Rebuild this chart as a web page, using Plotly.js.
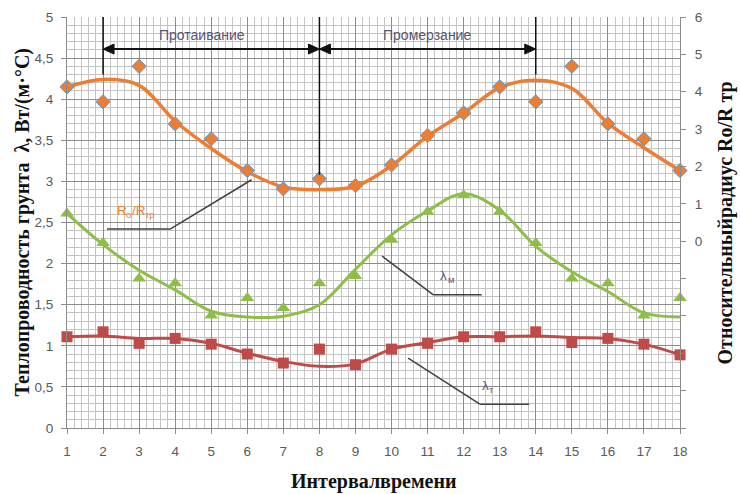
<!DOCTYPE html>
<html><head><meta charset="utf-8">
<script src="https://cdn.plot.ly/plotly-3.0.1.min.js"></script>
<style>body{margin:0;background:#fff}</style>
</head><body><div id="chart" style="width:740px;height:494px"></div>
<script>
// Time intervals
const intervals = [1,2,3,4,5,6,7,8,9,10,11,12,13,14,15,16,17,18];
// Relative radius Ro/Rтр (right axis): measured points and fitted curve
const radiusPoints = [4.13,3.73,4.68,3.14,2.74,1.89,1.40,1.67,1.49,2.04,2.83,3.43,4.13,3.73,4.68,3.14,2.74,1.89];
const radiusFit    = [4.13,4.33,4.17,3.21,2.48,1.86,1.45,1.38,1.47,2.02,2.81,3.43,4.11,4.31,4.09,3.16,2.50,1.89];
// Thermal conductivity of frozen soil λм (left axis)
const lambdaMPoints = [2.61,2.25,1.82,1.76,1.37,1.58,1.46,1.76,1.85,2.29,2.63,2.83,2.63,2.25,1.82,1.76,1.37,1.58];
const lambdaMFit    = [2.61,2.23,1.92,1.68,1.42,1.35,1.36,1.50,1.93,2.35,2.64,2.85,2.65,2.21,1.90,1.66,1.40,1.35];
// Thermal conductivity of thawed soil λт (left axis)
const lambdaTPoints = [1.11,1.17,1.03,1.09,1.02,0.90,0.79,0.96,0.77,0.96,1.03,1.11,1.11,1.17,1.04,1.09,1.02,0.89];
const lambdaTFit    = [1.11,1.12,1.09,1.09,1.03,0.91,0.81,0.75,0.78,0.96,1.04,1.11,1.11,1.12,1.10,1.09,1.02,0.89];
// Right axis ticks: labelled 0..6, unlabelled -5..-1
const rightLabelledTicks = [0,1,2,3,4,5,6];
const rightBlankTicks = [-5,-4,-3,-2,-1];

const ORANGE = '#ED7D31', GREEN = '#8DBE48', RED = '#BE4B48', LBL = '#6a4f86';

const traces = [
  {x: intervals, y: radiusFit, yaxis: 'y2', mode: 'lines', line: {color: ORANGE, width: 3.5, shape: 'spline', smoothing: 1}, hoverinfo: 'skip'},
  {x: intervals, y: lambdaMFit, mode: 'lines', line: {color: GREEN, width: 3, shape: 'spline', smoothing: 1}, hoverinfo: 'skip'},
  {x: intervals, y: lambdaTFit, mode: 'lines', line: {color: RED, width: 3, shape: 'spline', smoothing: 1}, hoverinfo: 'skip'},
  {x: intervals, y: radiusPoints, yaxis: 'y2', mode: 'markers', cliponaxis: false,
   marker: {symbol: 'diamond', size: 11, color: ORANGE, line: {color: '#5B9BD5', width: 1}}},
  {x: intervals, y: lambdaMPoints, mode: 'markers', cliponaxis: false,
   marker: {symbol: 'triangle-up', size: 12, color: GREEN, line: {width: 0}}},
  {x: intervals, y: lambdaTPoints, mode: 'markers', cliponaxis: false,
   marker: {symbol: 'square', size: 11, color: RED, line: {width: 0}}},
  {x: [], y: [], yaxis: 'y3', mode: 'markers', hoverinfo: 'skip'}
];

const tickFont = {family: 'Liberation Sans, Arial, sans-serif', size: 13.5, color: '#595959'};
const titleFont = {family: 'Liberation Serif, Times New Roman, serif', size: 20, color: '#111', weight: 'bold'};
const lead = {type: 'line', xref: 'x', yref: 'y', line: {color: '#404040', width: 1.5}};
const vline = {type: 'line', xref: 'x', yref: 'y', line: {color: '#111', width: 1.5}};
const hline = {type: 'line', xref: 'x', yref: 'y', line: {color: '#111', width: 2}};
function head(xv, dir) {
  const L = 11 * -dir;
  return {type: 'path', xref: 'x', yref: 'y', xsizemode: 'pixel', ysizemode: 'pixel',
          xanchor: xv, yanchor: 4.61, path: `M0,0 L${L},5 L${L},-5 Z`,
          fillcolor: '#111', line: {color: '#111', width: 1}};
}
// label pieces (main text + subscript drawn as separate small texts)
function piece(x, y, text, color, dx, sub) {
  return {x: x, y: y, xref: 'x', yref: 'y', xanchor: 'left', yanchor: 'middle', showarrow: false,
          text: text, xshift: dx, yshift: sub ? -4 : 0,
          font: {family: 'Liberation Sans, Arial, sans-serif', size: sub ? 9.5 : 13.5, color: color}};
}

const layout = {
  width: 740, height: 494,
  margin: {l: 67, r: 60, t: 17, b: 66},
  paper_bgcolor: '#fff', plot_bgcolor: '#fff',
  separators: ', ',
  showlegend: false,
  xaxis: {
    range: [1, 18], tickvals: intervals, ticks: 'outside', ticklen: 5, tickcolor: '#8c8c8c',
    showgrid: true, gridcolor: '#8c8c8c', gridwidth: 1,
    minor: {dtick: 0.2, tick0: 1, showgrid: true, gridcolor: '#c4c4c4', gridwidth: 1},
    showline: true, linecolor: '#8c8c8c', zeroline: false,
    tickfont: tickFont, ticklabelstandoff: 6
  },
  yaxis: {
    range: [0, 5], dtick: 0.5, tick0: 0, ticks: 'outside', ticklen: 5, tickcolor: '#8c8c8c',
    showgrid: true, gridcolor: '#8c8c8c', gridwidth: 1,
    minor: {dtick: 0.1, tick0: 0, showgrid: true, gridcolor: '#c4c4c4', gridwidth: 1},
    showline: true, linecolor: '#8c8c8c', zeroline: false,
    tickfont: tickFont, ticklabelstandoff: 5
  },
  yaxis2: {
    range: [-5, 6], overlaying: 'y', side: 'right', anchor: 'x', tickvals: rightLabelledTicks,
    ticks: 'outside', ticklen: 5, tickcolor: '#8c8c8c', showgrid: false, zeroline: false,
    showline: true, linecolor: '#8c8c8c', tickfont: tickFont, ticklabelstandoff: 6
  },
  yaxis3: {
    range: [-5, 6], overlaying: 'y', side: 'right', anchor: 'x', tickvals: rightBlankTicks,
    showticklabels: false, ticks: 'outside', ticklen: 5, tickcolor: '#8c8c8c',
    showgrid: false, zeroline: false, showline: false
  },
  shapes: [
    Object.assign({x0: 2, x1: 2, y0: 5, y1: 4.3}, vline),
    Object.assign({x0: 8, x1: 8, y0: 5, y1: 3.08}, vline),
    Object.assign({x0: 14, x1: 14, y0: 5, y1: 4.3}, vline),
    Object.assign({x0: 2.15, x1: 7.85, y0: 4.61, y1: 4.61}, hline),
    Object.assign({x0: 8.15, x1: 13.85, y0: 4.61, y1: 4.61}, hline),
    head(2, -1), head(8, 1), head(8, -1), head(14, 1),
    Object.assign({x0: 2.11, x1: 3.86, y0: 2.42, y1: 2.42}, lead),
    Object.assign({x0: 3.86, x1: 6.12, y0: 2.42, y1: 3.02}, lead),
    Object.assign({x0: 9.74, x1: 11.16, y0: 2.09, y1: 1.62}, lead),
    Object.assign({x0: 11.16, x1: 12.5, y0: 1.62, y1: 1.62}, lead),
    Object.assign({x0: 10.46, x1: 12.45, y0: 0.85, y1: 0.29}, lead),
    Object.assign({x0: 12.45, x1: 13.82, y0: 0.29, y1: 0.29}, lead)
  ],
  annotations: [
    {x: 4.74, y: 4.78, xref: 'x', yref: 'y', text: 'Протаивание', showarrow: false,
     font: {family: 'Liberation Sans, Arial, sans-serif', size: 14, color: '#5a5570'}},
    {x: 10.98, y: 4.78, xref: 'x', yref: 'y', text: 'Промерзание', showarrow: false,
     font: {family: 'Liberation Sans, Arial, sans-serif', size: 14, color: '#5a5570'}},
    piece(2.33, 2.64, 'R', ORANGE, 0, false),
    piece(2.33, 2.64, 'о', ORANGE, 9.5, true),
    piece(2.33, 2.64, '/R', ORANGE, 15, false),
    piece(2.33, 2.64, 'тр', ORANGE, 28.5, true),
    piece(11.29, 1.86, 'λ', LBL, 0, false),
    piece(11.29, 1.86, 'м', LBL, 7.5, true),
    piece(12.45, 0.52, 'λ', LBL, 0, false),
    piece(12.45, 0.52, 'т', LBL, 7.5, true),
    {x: -0.0734, y: 0.5, xref: 'paper', yref: 'paper', xanchor: 'center', yanchor: 'middle', textangle: -90, showarrow: false,
     text: 'Теплопроводность грунта  λ, Вт/(м·°С)', font: titleFont},
    {x: 1.075, y: 0.5, xref: 'paper', yref: 'paper', xanchor: 'center', yanchor: 'middle', textangle: -90, showarrow: false,
     text: 'Относительныйрадиус Ro/R тр', font: titleFont},
    {x: 0.5, y: -0.131, xref: 'paper', yref: 'paper', xanchor: 'center', yanchor: 'middle', showarrow: false,
     text: 'Интервалвремени', font: titleFont}
  ]
};

Plotly.newPlot('chart', traces, layout, {displayModeBar: false, staticPlot: true});
</script>
</body></html>
